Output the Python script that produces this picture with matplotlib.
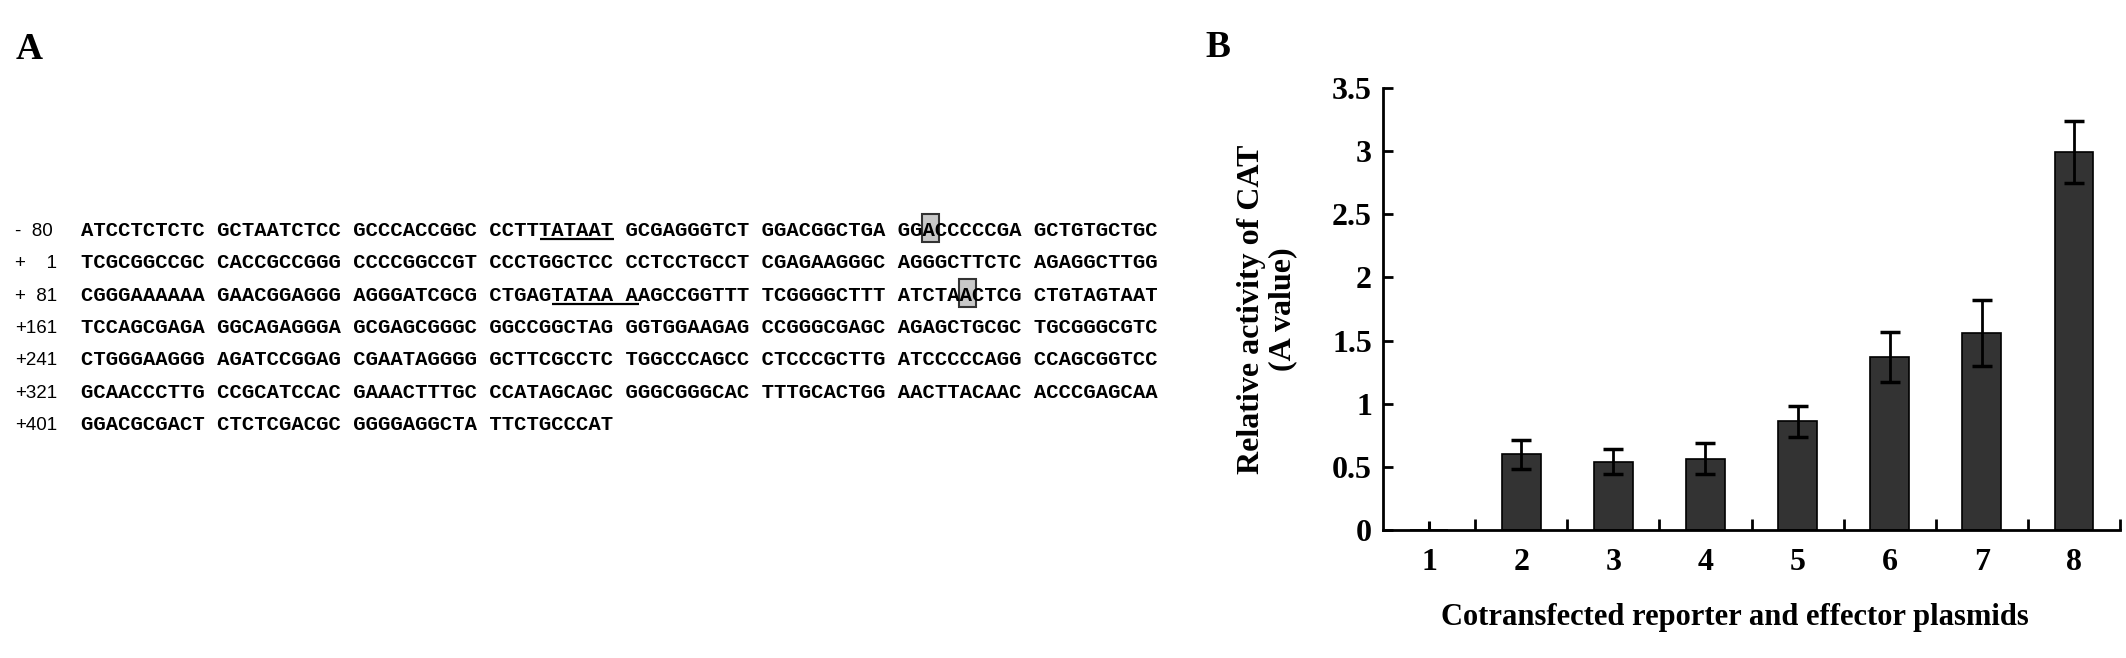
import matplotlib
matplotlib.use('Agg')
import matplotlib.pyplot as plt
from matplotlib.patches import Rectangle
import numpy as np

W, H = 2126, 658

# ---- panel B data ----
plasmids = ['1', '2', '3', '4', '5', '6', '7', '8']
cat_activity = [0.0, 0.60, 0.54, 0.565, 0.86, 1.37, 1.56, 2.99]
cat_sd = [0.07, 0.115, 0.10, 0.12, 0.12, 0.20, 0.26, 0.245]
y_ticks = [0, 0.5, 1, 1.5, 2, 2.5, 3, 3.5]
y_tick_labels = ['0', '0.5', '1', '1.5', '2', '2.5', '3', '3.5']

# ---- panel A data ----
FS = '\u2007'  # figure space, same width as a digit
row_labels = ['-' + FS + '80', '+' + FS + FS + '1', '+' + FS + '81',
              '+161', '+241', '+321', '+401']
seq_rows = [
    "ATCCTCTCTC GCTAATCTCC GCCCACCGGC CCTTTATAAT GCGAGGGTCT GGACGGCTGA GGACCCCCGA GCTGTGCTGC",
    "TCGCGGCCGC CACCGCCGGG CCCCGGCCGT CCCTGGCTCC CCTCCTGCCT CGAGAAGGGC AGGGCTTCTC AGAGGCTTGG",
    "CGGGAAAAAA GAACGGAGGG AGGGATCGCG CTGAGTATAA AAGCCGGTTT TCGGGGCTTT ATCTAACTCG CTGTAGTAAT",
    "TCCAGCGAGA GGCAGAGGGA GCGAGCGGGC GGCCGGCTAG GGTGGAAGAG CCGGGCGAGC AGAGCTGCGC TGCGGGCGTC",
    "CTGGGAAGGG AGATCCGGAG CGAATAGGGG GCTTCGCCTC TGGCCCAGCC CTCCCGCTTG ATCCCCCAGG CCAGCGGTCC",
    "GCAACCCTTG CCGCATCCAC GAAACTTTGC CCATAGCAGC GGGCGGGCAC TTTGCACTGG AACTTACAAC ACCCGAGCAA",
    "GGACGCGACT CTCTCGACGC GGGGAGGCTA TTCTGCCCAT",
]
tata_marks = [(0, 37, 42), (2, 38, 44)]   # (row, first char, last char)
boxed = [(0, 68), (2, 71)]                # (row, char)

plt.rcParams['font.family'] = 'Liberation Serif'

fig = plt.figure(figsize=(W / 100, H / 100), dpi=100)

# panel A drawn on a pixel canvas
axA = fig.add_axes([0, 0, 1, 1])
axA.set_xlim(0, W)
axA.set_ylim(H, 0)
axA.axis('off')

x0, pitch = 81, 12.4
base0, dy = 236, 32.3
for i, row in enumerate(seq_rows):
    yb = base0 + i * dy
    axA.text(15, yb, row_labels[i], family=['Liberation Sans', 'DejaVu Sans'],
             fontsize=13.5, ha='left', va='baseline')
    axA.text(x0, yb, row, family='Liberation Mono', fontweight='bold',
             fontsize=14.88, ha='left', va='baseline', zorder=3)

for r, c1, c2 in tata_marks:
    yb = base0 + r * dy + 3
    axA.plot([x0 + c1 * pitch, x0 + (c2 + 1) * pitch], [yb, yb],
             color='black', lw=1.6, solid_capstyle='butt')

for r, c in boxed:
    yb = base0 + r * dy
    axA.add_patch(Rectangle((x0 + c * pitch - 2, yb - 22), pitch + 4, 28,
                            facecolor='#c8c8c8', edgecolor='#333333',
                            lw=1.5, zorder=2))

axA.text(16, 59, 'A', fontsize=27, fontweight='bold', va='baseline')
axA.text(1205, 57, 'B', fontsize=27, fontweight='bold', va='baseline')

# panel B bar chart
ax = fig.add_axes([1383 / W, 1 - 530 / H, (2120 - 1383) / W, (530 - 88) / H])
x = np.arange(1, len(plasmids) + 1)
ax.bar(x, cat_activity, width=0.42, color='#333333', edgecolor='black',
       linewidth=1.2, zorder=2)
ax.errorbar(x[1:], cat_activity[1:], yerr=cat_sd[1:], fmt='none',
            ecolor='black', elinewidth=2, capsize=7, capthick=2.5, zorder=3)
ax.errorbar(x[:1], cat_activity[:1], yerr=[[0], [cat_sd[0]]], fmt='none',
            ecolor='black', elinewidth=2.2, capsize=0, zorder=3, clip_on=False)

ax.set_xlim(0.5, len(plasmids) + 0.5)
ax.set_ylim(0, 3.5)
for s in ['top', 'right']:
    ax.spines[s].set_visible(False)
for s in ['left', 'bottom']:
    ax.spines[s].set_linewidth(2)

ax.set_yticks(y_ticks, y_tick_labels)
ax.tick_params(axis='y', direction='in', length=7, width=2, pad=8,
               labelsize=23)
ax.set_xticks(np.arange(1.5, len(plasmids) + 0.6, 1), [''] * len(plasmids))
ax.set_xticks(x, plasmids, minor=True)
ax.tick_params(axis='x', which='major', direction='in', length=8, width=2)
ax.tick_params(axis='x', which='minor', length=0, pad=13, labelsize=23)
for lab in ax.get_xticklabels(minor=True) + ax.get_yticklabels():
    lab.set_fontweight('bold')

fig.text(1267 / W, 1 - 309 / H, 'Relative activity of CAT\n(A value)',
         rotation=90, ha='center', va='center', fontsize=23,
         fontweight='bold', linespacing=1.1)
fig.text(1735 / W, 1 - 617 / H, 'Cotransfected reporter and effector plasmids',
         ha='center', va='center', fontsize=22, fontweight='bold')

fig.savefig('out.png', dpi=100)
